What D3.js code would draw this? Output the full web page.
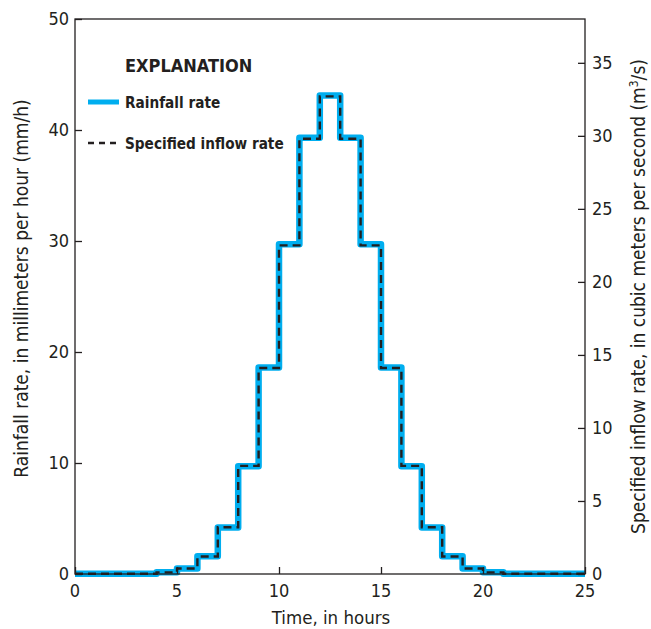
<!DOCTYPE html>
<html lang="en">
<head>
<meta charset="utf-8">
<title>Rainfall and inflow</title>
<script src="https://cdn.jsdelivr.net/npm/d3@7"></script>
<style>
  body { margin: 0; background: #fff; }
  text { font-family: "Liberation Sans Narrow", "DejaVu Sans Condensed", "Roboto Condensed", sans-serif; fill: #231f20; }
</style>
</head>
<body>
<script>
// hour boundaries of each step (start of each hourly block)
var hours = [0, 4, 5, 6, 7, 8, 9, 10, 11, 12, 13, 14, 15, 16, 17, 18, 19, 20, 21, 25];
// rainfall rate, mm/h, for each block
var rainfall = [0.02, 0.15, 0.5, 1.6, 4.2, 9.7, 18.6, 29.7, 39.3, 43.1, 39.3, 29.7, 18.6, 9.7, 4.2, 1.6, 0.5, 0.15, 0.02];
// specified inflow rate, m3/s, for each block
var inflow = [0.015, 0.11, 0.38, 1.2, 3.2, 7.4, 14.1, 22.5, 29.8, 32.7, 29.8, 22.5, 14.1, 7.4, 3.2, 1.2, 0.38, 0.11, 0.015];

var xTicks = [0, 5, 10, 15, 20, 25];
var leftTicks = [0, 10, 20, 30, 40, 50];
var rightTicks = [0, 5, 10, 15, 20, 25, 30, 35];

var w = 651, h = 629;
var m = {top: 19, right: 66, bottom: 55, left: 75};

var svg = d3.select("body").append("svg")
  .attr("width", w).attr("height", h);

var x = d3.scaleLinear().domain([0, 25]).range([m.left, w - m.right]);
var yL = d3.scaleLinear().domain([0, 50]).range([h - m.bottom, m.top]);
var yR = d3.scaleLinear().domain([0, 38]).range([h - m.bottom, m.top]);

// turn block values into step points
function steps(vals) {
  var pts = [];
  for (var i = 0; i < vals.length; i++) {
    pts.push([hours[i], vals[i]]);
  }
  pts.push([hours[hours.length - 1], vals[vals.length - 1]]);
  return pts;
}

var rainLine = d3.line().curve(d3.curveStepAfter)
  .x(function(d) { return x(d[0]); })
  .y(function(d) { return yL(d[1]); });
var inflowLine = d3.line().curve(d3.curveStepAfter)
  .x(function(d) { return x(d[0]); })
  .y(function(d) { return yR(d[1]); });

svg.append("path")
  .attr("d", rainLine(steps(rainfall)))
  .attr("fill", "none").attr("stroke", "#00aeef")
  .attr("stroke-width", 6.5).attr("stroke-linejoin", "round");

svg.append("path")
  .attr("d", inflowLine(steps(inflow)))
  .attr("fill", "none").attr("stroke", "#231f20")
  .attr("stroke-width", 2.4).attr("stroke-dasharray", "8,5");

// frame
svg.append("rect")
  .attr("x", x(0)).attr("y", m.top)
  .attr("width", x(25) - x(0)).attr("height", yL(0) - m.top)
  .attr("fill", "none").attr("stroke", "#231f20").attr("stroke-width", 1.3);

// axes, ticks pointing inward
var xAxis = svg.append("g")
  .attr("transform", "translate(0," + yL(0) + ")")
  .call(d3.axisTop(x).tickValues(xTicks).tickSize(7).tickFormat(""));
xAxis.selectAll("text.lab").data(xTicks).join("text")
  .attr("class", "lab")
  .attr("x", function(d) { return x(d); }).attr("y", 23)
  .attr("text-anchor", "middle").style("font-size", "18px")
  .text(function(d) { return d; });

var lAxis = svg.append("g")
  .attr("transform", "translate(" + x(0) + ",0)")
  .call(d3.axisRight(yL).tickValues(leftTicks).tickSize(7).tickFormat(""));
lAxis.selectAll("text.lab").data(leftTicks).join("text")
  .attr("class", "lab")
  .attr("x", -6).attr("y", function(d) { return yL(d) + 6; })
  .attr("text-anchor", "end").style("font-size", "18px")
  .text(function(d) { return d; });

var rAxis = svg.append("g")
  .attr("transform", "translate(" + x(25) + ",0)")
  .call(d3.axisLeft(yR).tickValues(rightTicks).tickSize(7).tickFormat(""));
rAxis.selectAll("text.lab").data(rightTicks).join("text")
  .attr("class", "lab")
  .attr("x", 7).attr("y", function(d) { return yR(d) + 6; })
  .attr("text-anchor", "start").style("font-size", "18px")
  .text(function(d) { return d; });

svg.selectAll(".domain").remove();
svg.selectAll(".tick line").attr("stroke", "#231f20").attr("stroke-width", 1.3);

// axis titles
svg.append("text")
  .attr("x", (x(0) + x(25)) / 2 + 1).attr("y", 624)
  .attr("text-anchor", "middle").style("font-size", "18.5px")
  .text("Time, in hours");

svg.append("text")
  .attr("transform", "translate(28," + ((yL(0) + m.top) / 2 - 8) + ") rotate(-90)")
  .attr("text-anchor", "middle").style("font-size", "19px")
  .text("Rainfall rate, in millimeters per hour (mm/h)");

var rt = svg.append("text")
  .attr("transform", "translate(645," + ((yL(0) + m.top) / 2) + ") rotate(-90)")
  .attr("text-anchor", "middle").style("font-size", "19px");
rt.append("tspan").text("Specified inflow rate, in cubic meters per second (m");
rt.append("tspan").attr("dy", -7).style("font-size", "12px").text("3");
rt.append("tspan").attr("dy", 7).text("/s)");

// legend
var lg = svg.append("g");
lg.append("text").attr("x", 125).attr("y", 72)
  .style("font-size", "18px").style("font-weight", "bold").text("EXPLANATION");
lg.append("line").attr("x1", 88).attr("x2", 119).attr("y1", 102).attr("y2", 102)
  .attr("stroke", "#00aeef").attr("stroke-width", 5);
lg.append("text").attr("x", 125).attr("y", 108)
  .style("font-size", "15.2px").style("font-weight", "bold").text("Rainfall rate");
lg.append("line").attr("x1", 88).attr("x2", 120).attr("y1", 143).attr("y2", 143)
  .attr("stroke", "#231f20").attr("stroke-width", 2.4).attr("stroke-dasharray", "6,5");
lg.append("text").attr("x", 125).attr("y", 149)
  .style("font-size", "15.2px").style("font-weight", "bold").text("Specified inflow rate");
</script>
</body>
</html>
